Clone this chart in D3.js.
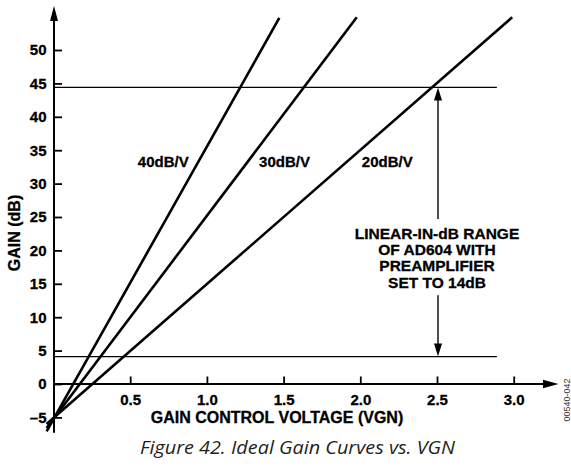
<!DOCTYPE html>
<html>
<head>
<meta charset="utf-8">
<script src="https://cdn.jsdelivr.net/npm/d3@7"></script>
<style>
  html, body { margin: 0; padding: 0; background: #fff; }
  svg { display: block; }
  .bold { font-family: "Liberation Sans", Arial, Helvetica, sans-serif; font-weight: bold; fill: #000; stroke: #000; stroke-width: 0.3px; }
</style>
</head>
<body>
<script>
// ---- data ----
const xTicks = [0.5, 1.0, 1.5, 2.0, 2.5, 3.0];
const yTicks = [-5, 0, 5, 10, 15, 20, 25, 30, 35, 40, 45, 50];
const curveNames = ["40dB/V", "30dB/V", "20dB/V"];
const curveStart = [[-0.045, -7.1], [-0.045, -6.6], [-0.045, -6.0]];
const curveEnd = [[1.472, 54.8], [1.977, 54.9], [2.99, 54.9]];
const curveLabelPos = [[0.55, 32.5], [1.34, 32.5], [2.01, 32.5]];
const rangeLines = [44.4, 4.1];
const rangeLineExtent = [0, 2.89];
const rangeArrowV = 2.5;
const rangeText = ["LINEAR-IN-dB RANGE", "OF AD604 WITH", "PREAMPLIFIER", "SET TO 14dB"];
const xTitle = "GAIN CONTROL VOLTAGE (VGN)";
const yTitle = "GAIN (dB)";
const caption = "Figure 42. Ideal Gain Curves vs. VGN";
const figId = "00540-042";

// ---- layout ----
const W = 571, H = 466;
const svg = d3.select("body").append("svg").attr("width", W).attr("height", H);

const x = d3.scaleLinear().domain([0, 3]).range([53.5, 513.7]);
const y = d3.scaleLinear().domain([0, 50]).range([384, 50]);

// horizontal range lines
svg.append("g").selectAll("line").data(rangeLines).join("line")
  .attr("x1", x(rangeLineExtent[0])).attr("x2", x(rangeLineExtent[1]))
  .attr("y1", d => y(d)).attr("y2", d => y(d))
  .attr("stroke", "#000").attr("stroke-width", 1.4);

// axes lines with arrows
const ax = x(0) + 0.5;
svg.append("line").attr("x1", ax).attr("x2", ax).attr("y1", y(-7.3)).attr("y2", 18)
  .attr("stroke", "#000").attr("stroke-width", 2);
svg.append("path").attr("d", `M${ax},6 L${ax - 4},21 L${ax + 4},21 Z`).attr("fill", "#000");
svg.append("line").attr("x1", ax).attr("x2", 546).attr("y1", y(0)).attr("y2", y(0))
  .attr("stroke", "#000").attr("stroke-width", 2);
svg.append("path").attr("d", `M558.5,${y(0)} L543,${y(0) - 4.2} L543,${y(0) + 4.2} Z`).attr("fill", "#000");

// x axis ticks
const xAxis = d3.axisBottom(x).tickValues(xTicks).tickSize(-7.5).tickPadding(10)
  .tickFormat(d3.format(".1f"));
const gx = svg.append("g").attr("transform", `translate(0,${y(0)})`).call(xAxis);
gx.select(".domain").remove();
gx.selectAll(".tick line").attr("stroke", "#000").attr("stroke-width", 1.8);
gx.selectAll(".tick text").attr("class", "bold").attr("font-size", 15);

// y axis ticks
const yAxis = d3.axisLeft(y).tickValues(yTicks).tickSize(-8).tickPadding(7.5)
  .tickFormat(d => d < 0 ? "\u2013" + Math.abs(d) : String(d));
const gy = svg.append("g").attr("transform", `translate(${ax},0)`).call(yAxis);
gy.select(".domain").remove();
gy.selectAll(".tick line").attr("stroke", "#000").attr("stroke-width", 1.8);
gy.selectAll(".tick text").attr("class", "bold").attr("font-size", 15);

// gain curves
const line = d3.line().x(d => x(d[0])).y(d => y(d[1]));
svg.append("g").selectAll("path").data(curveNames.map((n, i) => [curveStart[i], curveEnd[i]])).join("path")
  .attr("d", line).attr("fill", "none").attr("stroke", "#000").attr("stroke-width", 2.6);

// curve labels
svg.append("g").selectAll("text").data(curveNames).join("text")
  .attr("class", "bold").attr("font-size", 15)
  .attr("x", (d, i) => x(curveLabelPos[i][0])).attr("y", (d, i) => y(curveLabelPos[i][1]))
  .text(d => d);

// range annotation arrow
const axv = x(rangeArrowV) + 1;
const tTop = y(24.7), tBot = y(13.3);
svg.append("line").attr("x1", axv).attr("x2", axv).attr("y1", y(rangeLines[0]) + 10).attr("y2", tTop)
  .attr("stroke", "#000").attr("stroke-width", 1.4);
svg.append("line").attr("x1", axv).attr("x2", axv).attr("y1", tBot).attr("y2", y(rangeLines[1]) - 10)
  .attr("stroke", "#000").attr("stroke-width", 1.4);
const t1 = y(rangeLines[0]), t2 = y(rangeLines[1]);
svg.append("path").attr("d", `M${axv},${t1} L${axv - 4},${t1 + 13} L${axv + 4},${t1 + 13} Z`).attr("fill", "#000");
svg.append("path").attr("d", `M${axv},${t2} L${axv - 4},${t2 - 13} L${axv + 4},${t2 - 13} Z`).attr("fill", "#000");

svg.append("g").selectAll("text").data(rangeText).join("text")
  .attr("class", "bold").attr("font-size", 15.5).attr("text-anchor", "middle")
  .attr("x", axv - 1).attr("y", (d, i) => 239 + i * 16.2)
  .text(d => d);

// axis titles
svg.append("text").attr("class", "bold").attr("font-size", 16)
  .attr("text-anchor", "middle").attr("x", 277).attr("y", 423).text(xTitle);
svg.append("text").attr("class", "bold").attr("font-size", 16)
  .attr("text-anchor", "middle").attr("transform", "translate(19.5,233) rotate(-90)").text(yTitle);

// caption
svg.append("text").attr("font-family", "'Open Sans', 'Noto Sans', sans-serif").attr("font-style", "italic")
  .attr("font-size", 17.5).attr("fill", "#231f20").attr("text-anchor", "middle")
  .attr("textLength", 315).attr("lengthAdjust", "spacingAndGlyphs")
  .attr("x", 297.5).attr("y", 454).text(caption);

// figure id
svg.append("text").attr("font-family", "'Liberation Sans', Arial, sans-serif").attr("font-size", 9)
  .attr("fill", "#333").attr("text-anchor", "middle")
  .attr("transform", "translate(570,400) rotate(-90)").text(figId);
</script>
</body>
</html>
